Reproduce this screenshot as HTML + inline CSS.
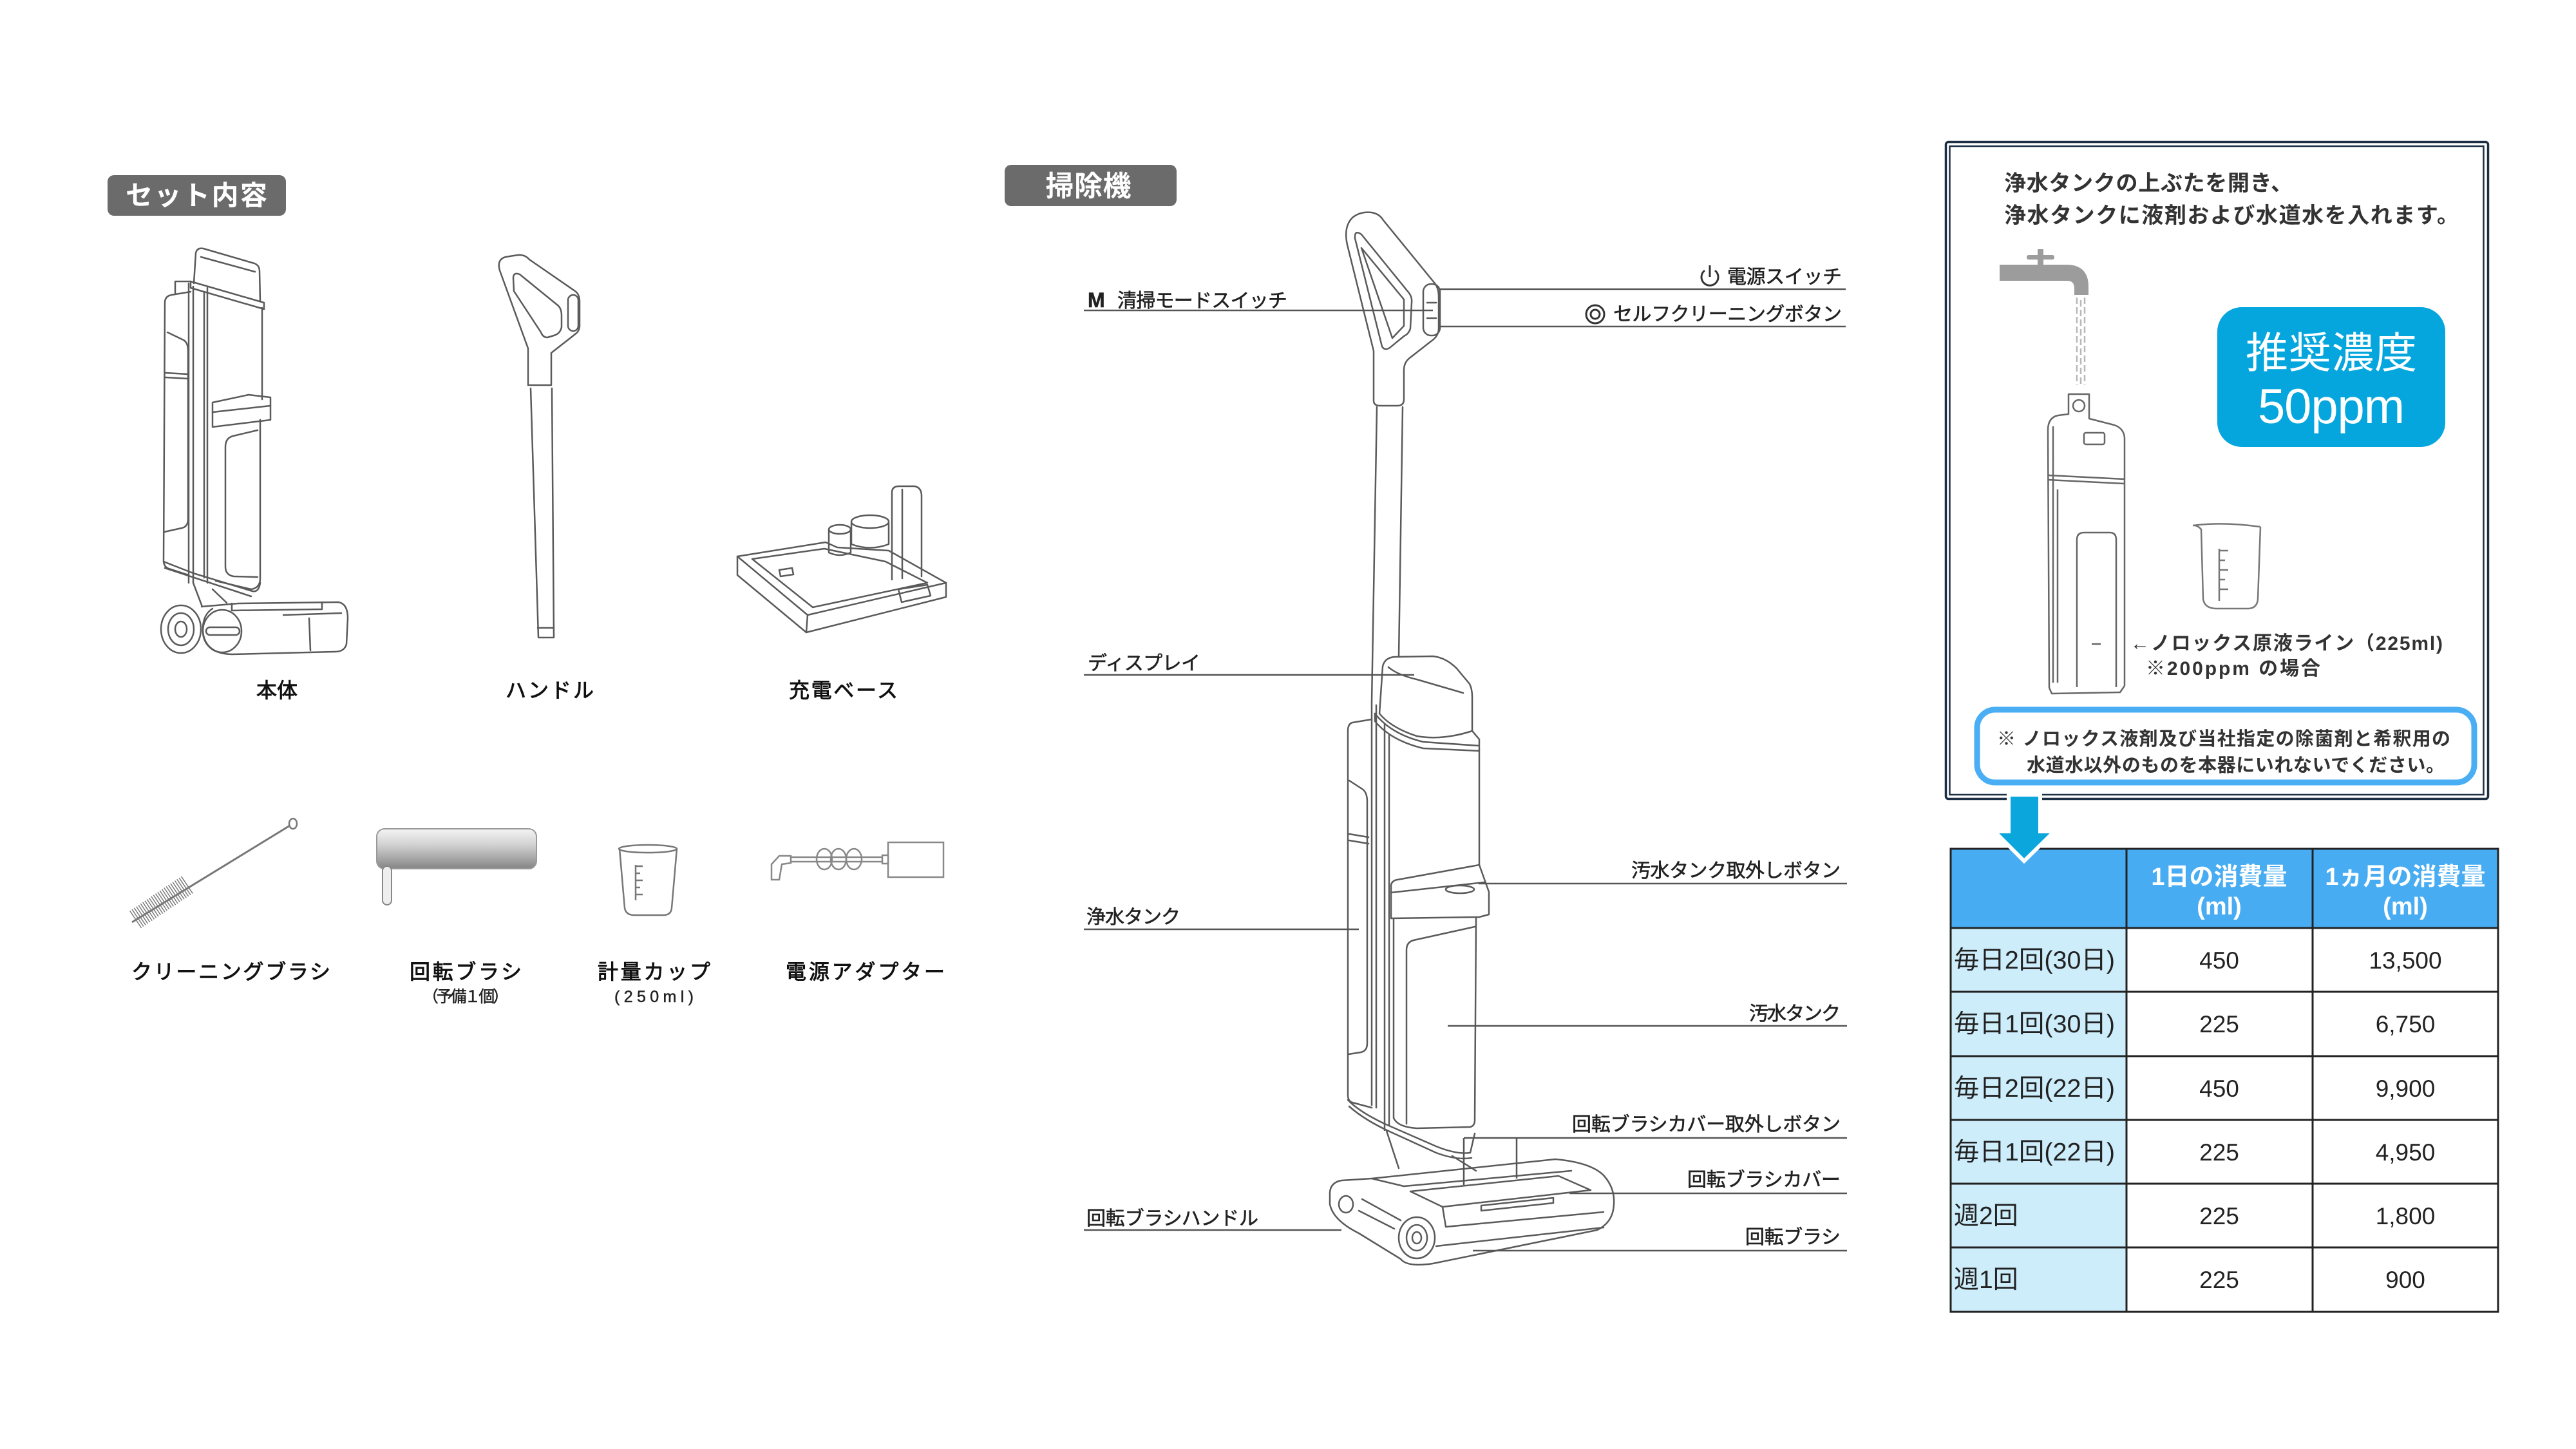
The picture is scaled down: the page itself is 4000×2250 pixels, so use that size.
<!DOCTYPE html>
<html><head><meta charset="utf-8">
<style>
html,body{margin:0;padding:0;background:#fff;}
svg{display:block;}
text{font-family:"Liberation Sans","Noto Sans CJK JP",sans-serif;}
</style></head><body>
<svg width="4000" height="2250" viewBox="0 0 4000 2250" xmlns="http://www.w3.org/2000/svg">
<defs>
<linearGradient id="rg" x1="0" y1="0" x2="0" y2="1">
<stop offset="0" stop-color="#f4f4f4"/><stop offset="0.4" stop-color="#d2d2d2"/><stop offset="1" stop-color="#858585"/>
</linearGradient>
</defs>
<rect width="4000" height="2250" fill="#fff"/>

<!-- ===== Section headers ===== -->
<rect x="167" y="272" width="277" height="63" rx="10" fill="#6b6b6b"/>
<text x="305" y="318" font-size="42" font-weight="bold" fill="#fff" text-anchor="middle" textLength="220" lengthAdjust="spacing">セット内容</text>
<rect x="1560" y="256" width="267" height="64" rx="10" fill="#6b6b6b"/>
<text x="1690" y="304" font-size="44" font-weight="bold" fill="#fff" text-anchor="middle" textLength="133" lengthAdjust="spacing">掃除機</text>

<!-- ===== Left: 本体 ===== -->
<g fill="none" stroke="#5a5a5a" stroke-width="2.5" stroke-linejoin="round" stroke-linecap="round">
<path d="M301,440 L304,393 Q306,384 316,386 L395,409 Q403,412 403,421 L404,468"/>
<path d="M312,399 L396,422"/>
<path d="M296,437 L410,470 L410,480 L296,447 Z"/>
<path d="M322,447 L322,905"/>
<path d="M407,478 L407,620"/>
<path d="M330,625 L386,613 L420,617 L420,652 L330,663 Z"/>
<path d="M330,640 L420,630"/>
<path d="M404,652 L404,898 Q404,913 390,915 L335,902"/>
<path d="M400,668 L362,677 Q350,680 350,694 L350,880 Q350,893 363,895 L400,896"/>
<path d="M293,440 L293,905"/>
<path d="M300,445 L300,905"/>
<path d="M317,455 L317,897"/>
<path d="M296,453 L266,458 Q256,460 256,470 L254,870 Q254,880 262,883 L293,893"/>
<path d="M272,455 L272,437 L296,437"/>
<path d="M260,516 L285,528 Q292,532 292,545 L292,806 Q292,818 282,820 L255,826"/>
<path d="M257,579 L292,581 M257,586 L292,588"/>
<path d="M254,872 L300,890 L392,918 Q402,920 404,905"/>
<path d="M256,882 L390,926"/>
<path d="M300,905 L314,942"/>
<path d="M330,915 L352,936"/>
<ellipse cx="281" cy="977" rx="31" ry="37"/>
<ellipse cx="281" cy="977" rx="20" ry="25"/>
<ellipse cx="281" cy="977" rx="9" ry="12"/>
<path d="M313,942 L370,937 L525,935 Q540,937 540,960 L538,1000 Q535,1012 520,1012 L360,1016 Q318,1015 315,980 Q314,955 330,945"/>
<path d="M360,937 L360,948 L500,946 L500,935"/>
<path d="M440,955 L530,952"/>
<ellipse cx="345" cy="980" rx="30" ry="33"/>
<rect x="320" y="974" width="52" height="12" rx="6"/>
<path d="M480,960 L482,1010"/>
</g>

<!-- ===== Left: ハンドル ===== -->
<g fill="none" stroke="#5a5a5a" stroke-width="2.5" stroke-linejoin="round" stroke-linecap="round">
<path d="M820,541 L776,420 Q771,403 785,399 L804,396 Q815,395 822,403 L893,452 Q900,457 900,468 L900,506 Q900,514 893,519 L856,548 L856,598 L820,598 Z"/>
<path d="M797,432 Q797,422 807,426 L866,474 Q872,479 872,490 L872,508 Q870,518 860,521 L850,524 Q843,524 840,516 L798,452 Z"/>
<rect x="882" y="458" width="16" height="56" rx="8"/>
<path d="M824,603 L836,990 L860,990 L857,603"/>
<path d="M835,975 L860,975"/>
</g>

<!-- ===== Left: 充電ベース ===== -->
<g fill="none" stroke="#5a5a5a" stroke-width="2.5" stroke-linejoin="round" stroke-linecap="round">
<path d="M1145,864 L1282,842 L1300,850 L1380,855 L1469,905 L1254,955 Z"/>
<path d="M1145,864 L1145,893 L1252,982 L1469,927 L1469,905"/>
<path d="M1254,955 L1252,982"/>
<path d="M1168,868 L1280,852 L1375,872 L1440,905 L1262,943 Z"/>
<path d="M1210,885 L1230,882 L1232,892 L1212,895 Z"/>
<path d="M1385,900 L1385,765 Q1385,755 1396,755 L1420,755 Q1431,757 1431,770 L1431,895"/>
<path d="M1401,760 L1401,898"/>
<path d="M1322,812 L1322,845 Q1351,856 1380,845 L1380,812"/>
<ellipse cx="1351" cy="810" rx="29" ry="10"/>
<path d="M1287,822 L1287,858 Q1304,866 1321,858 L1321,822"/>
<ellipse cx="1304" cy="822" rx="17" ry="7"/>
<path d="M1395,915 L1440,908 L1445,925 L1400,935 Z"/>
</g>

<!-- ===== Left bottom row ===== -->
<line x1="205" y1="1432" x2="450" y2="1282" stroke="#777" stroke-width="3"/>
<ellipse cx="455" cy="1279" rx="6" ry="8" stroke="#777" stroke-width="2.5" fill="#fff"/>
<line x1="210" y1="1428" x2="292" y2="1373" stroke="#7a7a7a" stroke-width="32" stroke-dasharray="1.5 2.5"/>
<rect x="585" y="1287" width="248" height="62" rx="12" fill="url(#rg)" stroke="#999" stroke-width="2"/>
<rect x="594" y="1345" width="14" height="60" rx="7" fill="#eee" stroke="#888" stroke-width="2"/>
<g fill="none" stroke="#777" stroke-width="2.5">
<path d="M962,1318 L970,1410 Q972,1421 985,1421 L1030,1421 Q1042,1421 1043,1410 L1051,1318"/>
<ellipse cx="1006" cy="1318" rx="45" ry="6"/>
<path d="M987,1343 L987,1398 M987,1345 L998,1345 M987,1356 L994,1356 M987,1367 L998,1367 M987,1378 L994,1378 M987,1389 L998,1389"/>
</g>
<g fill="#fff" stroke="#888" stroke-width="2.5">
<rect x="1379" y="1308" width="86" height="54"/>
<path d="M1226,1331 L1372,1331 M1226,1338 L1372,1338" fill="none"/>
<rect x="1370" y="1328" width="9" height="13"/>
<path d="M1198,1366 L1198,1342 L1210,1329 L1228,1329 L1228,1340 L1214,1342 L1210,1366 Z"/>
<ellipse cx="1280" cy="1334" rx="12" ry="16" fill="none"/>
<ellipse cx="1302" cy="1334" rx="12" ry="16" fill="none"/>
<ellipse cx="1326" cy="1334" rx="12" ry="16" fill="none"/>
</g>

<!-- ===== Left labels ===== -->
<g font-size="32" fill="#111" stroke="#111" stroke-width="0.9">
<text x="398" y="1083" textLength="64" lengthAdjust="spacing">本体</text>
<text x="785" y="1083" textLength="137" lengthAdjust="spacing">ハンドル</text>
<text x="1225" y="1083" textLength="169" lengthAdjust="spacing">充電ベース</text>
<text x="204" y="1520" textLength="309" lengthAdjust="spacing">クリーニングブラシ</text>
<text x="636" y="1520" textLength="174" lengthAdjust="spacing">回転ブラシ</text>
<text x="928" y="1520" textLength="175" lengthAdjust="spacing">計量カップ</text>
<text x="1220" y="1520" textLength="247" lengthAdjust="spacing">電源アダプター</text>
</g>
<g font-size="25" fill="#222" stroke="#222" stroke-width="0.5">
<text x="656" y="1556" textLength="134" lengthAdjust="spacing">（予備１個）</text>
<text x="954" y="1556" textLength="123" lengthAdjust="spacing">(250ml)</text>
</g>

<!-- ===== Middle vacuum ===== -->
<g fill="none" stroke="#5a5a5a" stroke-width="2.5" stroke-linejoin="round" stroke-linecap="round">
<path d="M2133,622 L2133,545 L2092,380 Q2086,352 2100,338 Q2112,328 2130,330 Q2142,332 2148,342 L2228,440 Q2234,448 2234,460 L2234,510 Q2234,522 2222,530 L2190,555 Q2180,562 2180,575 L2180,620 Q2180,630 2170,630 L2143,630 Q2133,630 2133,622 Z"/>
<path d="M2104,370 Q2103,356 2114,364 L2188,455 Q2193,462 2192,470 L2190,510 Q2188,518 2180,522 L2158,540 Q2150,545 2146,538 Z"/>
<path d="M2114,385 L2180,465 L2180,506 L2162,525 Z"/>
<rect x="2210" y="441" width="26" height="80" rx="12"/>
<path d="M2216,470 L2230,470 M2216,494 L2230,494"/>
<path d="M2138,632 L2130,1090"/>
<path d="M2178,632 L2172,1020"/>
<path d="M2142,1108 L2147,1035 Q2150,1021 2166,1020 L2225,1019 Q2245,1021 2262,1038 L2282,1062 Q2286,1070 2286,1082 L2286,1135 Q2240,1150 2200,1143 Q2160,1130 2142,1108 Z"/>
<path d="M2156,1036 Q2170,1048 2200,1055 L2272,1076"/>
<path d="M2135,1108 Q2160,1140 2210,1152 L2297,1158 L2297,1148 L2286,1135"/>
<path d="M2135,1108 L2135,1120 Q2160,1150 2210,1162 L2297,1166"/>
<path d="M2150,1125 L2150,1755"/>
<path d="M2297,1160 L2297,1343"/>
<path d="M2130,1090 L2130,1716"/>
<path d="M2137,1095 L2137,1720"/>
<path d="M2157,1140 L2157,1748"/>
<path d="M2130,1117 L2100,1122 Q2093,1124 2093,1135 L2093,1700 Q2093,1710 2100,1712 L2130,1720"/>
<path d="M2095,1212 L2115,1225 Q2123,1230 2123,1245 L2123,1620 Q2123,1632 2113,1634 L2094,1637"/>
<path d="M2095,1295 L2125,1300 M2095,1305 L2125,1310"/>
<path d="M2160,1426 L2160,1374 Q2162,1367 2170,1366 L2297,1343 L2312,1385 L2312,1420 L2297,1424 Z"/>
<path d="M2160,1386 L2305,1370"/>
<ellipse cx="2267" cy="1381" rx="22" ry="6"/>
<path d="M2164,1426 L2164,1736 Q2170,1750 2200,1752 L2283,1750 Q2290,1748 2290,1740 L2292,1424"/>
<path d="M2290,1439 L2195,1460 Q2184,1463 2184,1475 L2184,1745"/>
<path d="M2093,1708 Q2110,1726 2150,1745 L2230,1780 Q2262,1793 2283,1790 L2290,1760"/>
<path d="M2095,1718 Q2120,1740 2160,1758 L2230,1790 Q2262,1802 2285,1798"/>
<path d="M2153,1756 L2172,1814"/>
<path d="M2255,1795 L2292,1818"/>
<path d="M2065,1852 Q2066,1836 2083,1833 L2130,1830 L2415,1800 Q2470,1805 2490,1825 Q2508,1845 2506,1870 Q2505,1898 2480,1910 L2225,1962 Q2185,1968 2175,1955 L2110,1915 Q2070,1895 2065,1870 Z"/>
<path d="M2130,1830 L2180,1842 L2440,1818"/>
<path d="M2190,1850 L2420,1826 L2470,1848 L2240,1874 Z"/>
<path d="M2300,1872 L2412,1860 L2412,1868 L2300,1880 Z"/>
<path d="M2240,1874 L2245,1905 L2490,1882"/>
<path d="M2230,1935 L2490,1906"/>
<ellipse cx="2200" cy="1922" rx="28" ry="32"/>
<ellipse cx="2200" cy="1922" rx="16" ry="20"/>
<ellipse cx="2200" cy="1922" rx="7" ry="9"/>
<ellipse cx="2090" cy="1870" rx="11" ry="13"/>
<path d="M2115,1862 L2175,1895"/>
<path d="M2110,1880 L2165,1908"/>
</g>

<!-- ===== Middle label lines ===== -->
<g stroke="#555" stroke-width="2.5">
<line x1="1683" y1="482" x2="2225" y2="482"/>
<line x1="2236" y1="449" x2="2866" y2="449"/>
<line x1="2236" y1="507" x2="2866" y2="507"/>
<line x1="1683" y1="1048" x2="2196" y2="1048"/>
<line x1="2296" y1="1372" x2="2868" y2="1372"/>
<line x1="1683" y1="1443" x2="2110" y2="1443"/>
<line x1="2248" y1="1593" x2="2868" y2="1593"/>
<line x1="2273" y1="1767" x2="2868" y2="1767"/>
<line x1="2273" y1="1767" x2="2273" y2="1840"/>
<line x1="2355" y1="1767" x2="2355" y2="1830"/>
<line x1="2437" y1="1853" x2="2868" y2="1853"/>
<line x1="1683" y1="1910" x2="2083" y2="1910"/>
<line x1="2287" y1="1942" x2="2868" y2="1942"/>
</g>

<g fill="none" stroke="#333" stroke-width="3">
<path d="M2647,420 A13,13 0 1 0 2663,420"/>
<line x1="2655" y1="412" x2="2655" y2="430"/>
<circle cx="2477" cy="488" r="14"/>
<circle cx="2477" cy="488" r="7"/>
</g>

<!-- ===== Middle labels ===== -->
<g font-size="30" fill="#222" stroke="#222" stroke-width="0.6">
<text x="1689" y="477" font-weight="bold" font-size="32">M</text>
<text x="1735" y="477" textLength="264" lengthAdjust="spacing">清掃モードスイッチ</text>
<text x="2682" y="440" textLength="178" lengthAdjust="spacing">電源スイッチ</text>
<text x="2505" y="498" textLength="355" lengthAdjust="spacing">セルフクリーニングボタン</text>
<text x="1689" y="1040" textLength="175" lengthAdjust="spacing">ディスプレイ</text>
<text x="2533" y="1362" textLength="325" lengthAdjust="spacing">汚水タンク取外しボタン</text>
<text x="1687" y="1434" textLength="146" lengthAdjust="spacing">浄水タンク</text>
<text x="2716" y="1584" textLength="142" lengthAdjust="spacing">汚水タンク</text>
<text x="2441" y="1756" textLength="417" lengthAdjust="spacing">回転ブラシカバー取外しボタン</text>
<text x="2620" y="1842" textLength="238" lengthAdjust="spacing">回転ブラシカバー</text>
<text x="1687" y="1902" textLength="267" lengthAdjust="spacing">回転ブラシハンドル</text>
<text x="2710" y="1931" textLength="148" lengthAdjust="spacing">回転ブラシ</text>
</g>

<!-- ===== Right info box ===== -->
<rect x="3021.5" y="220.5" width="842" height="1020" rx="4" fill="#fff" stroke="#1d2f45" stroke-width="3.5"/>
<rect x="3027.5" y="227" width="829" height="1007" fill="none" stroke="#1d2f45" stroke-width="2.5"/>
<g font-size="34" font-weight="bold" fill="#333">
<text x="3112" y="296" textLength="448" lengthAdjust="spacing">浄水タンクの上ぶたを開き、</text>
<text x="3112" y="346" textLength="706" lengthAdjust="spacing">浄水タンクに液剤および水道水を入れます。</text>
</g>
<g fill="#9c9c9c">
<path d="M3105,411 L3212,411 Q3243,413 3243,445 L3243,458 L3221,458 L3221,446 Q3220,436 3210,436 L3105,436 Z"/>
<rect x="3164" y="387" width="9" height="25"/>
<rect x="3147" y="396" width="43" height="7" rx="3"/>
</g>
<g stroke="#b8b8b8" stroke-width="2.5" stroke-dasharray="10 5">
<line x1="3225" y1="462" x2="3225" y2="598"/>
<line x1="3231" y1="466" x2="3231" y2="598"/>
<line x1="3237" y1="462" x2="3237" y2="598"/>
</g>
<g fill="none" stroke="#666" stroke-width="2.5" stroke-linejoin="round">
<path d="M3182,1068 L3180,668 Q3180,648 3196,645 L3212,643 L3212,612 L3244,612 L3244,650 L3283,660 Q3298,665 3299,680 L3299,1065"/>
<circle cx="3228" cy="630" r="9"/>
<path d="M3180,738 L3299,744 M3180,745 L3299,751"/>
<path d="M3188,662 L3188,1060 M3195,760 L3195,1060"/>
<rect x="3236" y="672" width="32" height="18" rx="3"/>
<path d="M3225,1067 L3225,838 Q3225,827 3236,827 L3276,827 Q3286,827 3286,838 L3286,1067"/>
<path d="M3182,1068 L3186,1077 L3292,1075 L3299,1065"/>
<line x1="3248" y1="1000" x2="3262" y2="1000"/>
</g>
<g fill="none" stroke="#777" stroke-width="2.5">
<path d="M3405,816 Q3412,815 3418,822 L3421,930 Q3423,944 3440,945 L3492,945 Q3505,944 3506,930 L3510,818"/>
<path d="M3405,816 Q3450,810 3510,818"/>
<path d="M3446,852 L3446,933 M3446,855 L3460,855 M3446,870 L3455,870 M3446,885 L3460,885 M3446,900 L3455,900 M3446,915 L3460,915"/>
</g>
<rect x="3443" y="477" width="354" height="217" rx="38" fill="#05a6dd"/>
<text x="3620" y="571" font-size="66" fill="#fff" text-anchor="middle" textLength="266" lengthAdjust="spacing">推奨濃度</text>
<text x="3620" y="657" font-size="76" fill="#fff" text-anchor="middle" textLength="228" lengthAdjust="spacing">50ppm</text>
<g font-size="30" font-weight="bold" fill="#333">
<text x="3308" y="1009" textLength="485" lengthAdjust="spacing">←ノロックス原液ライン（225ml)</text>
<text x="3332" y="1048" textLength="271" lengthAdjust="spacing">※200ppm の場合</text>
</g>
<rect x="3070" y="1102" width="772" height="113" rx="28" fill="#fff" stroke="#4aaef5" stroke-width="9"/>
<g font-size="29" font-weight="bold" fill="#333">
<text x="3101" y="1157" textLength="704" lengthAdjust="spacing">※ ノロックス液剤及び当社指定の除菌剤と希釈用の</text>
<text x="3147" y="1198" textLength="649" lengthAdjust="spacing">水道水以外のものを本器にいれないでください。</text>
</g>

<!-- ===== Table ===== -->
<rect x="3029" y="1318" width="850" height="123" fill="#48acf2"/>
<rect x="3029" y="1441" width="273" height="596" fill="#cdedfb"/>
<g stroke="#222" stroke-width="3" fill="none">
<rect x="3029" y="1318" width="850" height="719"/>
<line x1="3302" y1="1318" x2="3302" y2="2037"/>
<line x1="3591" y1="1318" x2="3591" y2="2037"/>
<line x1="3029" y1="1441" x2="3879" y2="1441"/>
<line x1="3029" y1="1540" x2="3879" y2="1540"/>
<line x1="3029" y1="1640" x2="3879" y2="1640"/>
<line x1="3029" y1="1739" x2="3879" y2="1739"/>
<line x1="3029" y1="1838" x2="3879" y2="1838"/>
<line x1="3029" y1="1937" x2="3879" y2="1937"/>
</g>
<g font-size="38" font-weight="bold" fill="#fff" text-anchor="middle">
<text x="3446" y="1374">1日の消費量</text>
<text x="3446" y="1420">(ml)</text>
<text x="3735" y="1374">1ヵ月の消費量</text>
<text x="3735" y="1420">(ml)</text>
</g>
<g font-size="39" fill="#222">
<text x="3034" y="1504" textLength="250" lengthAdjust="spacingAndGlyphs">毎日2回(30日)</text>
<text x="3034" y="1603" textLength="250" lengthAdjust="spacingAndGlyphs">毎日1回(30日)</text>
<text x="3034" y="1703" textLength="250" lengthAdjust="spacingAndGlyphs">毎日2回(22日)</text>
<text x="3034" y="1802" textLength="250" lengthAdjust="spacingAndGlyphs">毎日1回(22日)</text>
<text x="3034" y="1901">週2回</text>
<text x="3034" y="2000">週1回</text>
</g>
<g font-size="37" fill="#222" text-anchor="middle">
<text x="3446" y="1504">450</text>
<text x="3446" y="1603">225</text>
<text x="3446" y="1703">450</text>
<text x="3446" y="1802">225</text>
<text x="3446" y="1901">225</text>
<text x="3446" y="2000">225</text>
<text x="3735" y="1504">13,500</text>
<text x="3735" y="1603">6,750</text>
<text x="3735" y="1703">9,900</text>
<text x="3735" y="1802">4,950</text>
<text x="3735" y="1901">1,800</text>
<text x="3735" y="2000">900</text>
</g>

<path d="M3119,1234 L3168,1234 L3168,1291 L3190,1291 L3143,1337 L3097,1291 L3119,1291 Z" fill="#0aa6dc" stroke="#fff" stroke-width="6" stroke-linejoin="miter"/>
</svg>
</body></html>
